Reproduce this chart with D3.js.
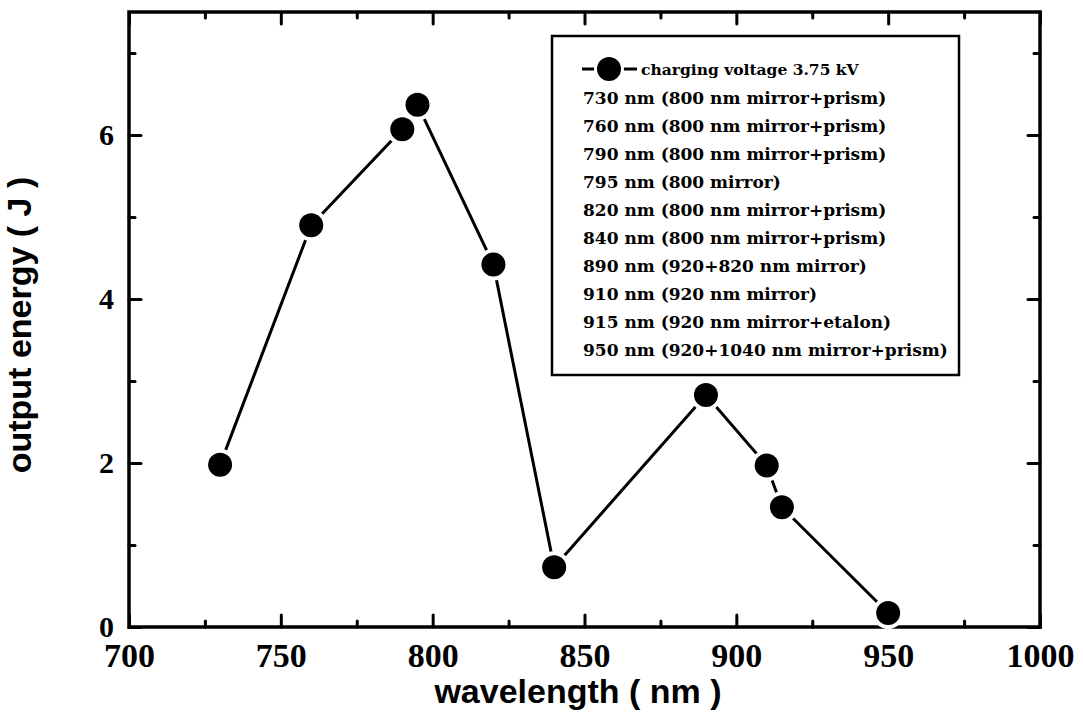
<!DOCTYPE html>
<html>
<head>
<meta charset="utf-8">
<script src="https://cdn.jsdelivr.net/npm/d3@7"></script>
<style>
  body { margin: 0; background: #fff; }
  svg { display: block; }
</style>
</head>
<body>
<div id="chart"></div>
<script>
// wavelength (nm) and output energy (J)
const wavelengths = [730, 760, 790, 795, 820, 840, 890, 910, 915, 950];
const energies = [1.98, 4.90, 6.07, 6.37, 4.42, 0.73, 2.83, 1.97, 1.46, 0.17];

const xMajor = [700, 750, 800, 850, 900, 950, 1000];
const xMinor = [725, 775, 825, 875, 925, 975];
const yMajor = [0, 2, 4, 6];
const yMinor = [1, 3, 5, 7];

const seriesLabel = "charging voltage 3.75 kV";
const legendLines = [
  "730 nm (800 nm mirror+prism)",
  "760 nm (800 nm mirror+prism)",
  "790 nm (800 nm mirror+prism)",
  "795 nm (800 mirror)",
  "820 nm (800 nm mirror+prism)",
  "840 nm (800 nm mirror+prism)",
  "890 nm (920+820 nm mirror)",
  "910 nm (920 nm mirror)",
  "915 nm (920 nm mirror+etalon)",
  "950 nm (920+1040 nm mirror+prism)"
];

const w = 1083;
const h = 716;
const plotL = 129, plotR = 1040, plotT = 12, plotB = 627;

const svg = d3.select("#chart")
  .append("svg")
  .attr("width", w)
  .attr("height", h);

const xScale = d3.scaleLinear().domain([700, 1000]).range([plotL, plotR]);
const yScale = d3.scaleLinear().domain([0, 7.5]).range([plotB, plotT]);

const tickFont = "'Liberation Serif', 'Times New Roman', serif";
const titleFont = "'Liberation Sans', Arial, sans-serif";

function styleAxis(g) {
  g.select(".domain").remove();
  g.selectAll(".tick line")
    .attr("stroke", "#000")
    .attr("stroke-width", 3)
    .attr("stroke-linecap", "round");
}

// bottom axis with labels
svg.append("g")
  .attr("transform", `translate(0,${plotB})`)
  .call(d3.axisBottom(xScale).tickValues(xMajor).tickSize(-12).tickFormat(d3.format("d")))
  .call(styleAxis)
  .call(g => g.selectAll("text")
    .attr("y", 40).attr("dy", null)
    .attr("fill", "#000")
    .style("font-family", tickFont)
    .style("font-weight", "bold")
    .style("font-size", "34px"));

svg.append("g")
  .attr("transform", `translate(0,${plotB})`)
  .call(d3.axisBottom(xScale).tickValues(xMinor).tickSize(-6).tickFormat(""))
  .call(styleAxis);

// top axis, ticks only
svg.append("g")
  .attr("transform", `translate(0,${plotT})`)
  .call(d3.axisTop(xScale).tickValues(xMajor).tickSize(-12).tickFormat(""))
  .call(styleAxis);
svg.append("g")
  .attr("transform", `translate(0,${plotT})`)
  .call(d3.axisTop(xScale).tickValues(xMinor).tickSize(-6).tickFormat(""))
  .call(styleAxis);

// left axis with labels
svg.append("g")
  .attr("transform", `translate(${plotL},0)`)
  .call(d3.axisLeft(yScale).tickValues(yMajor).tickSize(-12).tickPadding(15).tickFormat(d3.format("d")))
  .call(styleAxis)
  .call(g => g.selectAll("text")
    .attr("fill", "#000")
    .style("font-family", tickFont)
    .style("font-weight", "bold")
    .style("font-size", "30px"));
svg.append("g")
  .attr("transform", `translate(${plotL},0)`)
  .call(d3.axisLeft(yScale).tickValues(yMinor).tickSize(-6).tickFormat(""))
  .call(styleAxis);

// right axis, ticks only
svg.append("g")
  .attr("transform", `translate(${plotR},0)`)
  .call(d3.axisRight(yScale).tickValues(yMajor).tickSize(-12).tickFormat(""))
  .call(styleAxis);
svg.append("g")
  .attr("transform", `translate(${plotR},0)`)
  .call(d3.axisRight(yScale).tickValues(yMinor).tickSize(-6).tickFormat(""))
  .call(styleAxis);

// frame
svg.append("rect")
  .attr("x", plotL)
  .attr("y", plotT)
  .attr("width", plotR - plotL)
  .attr("height", plotB - plotT)
  .attr("fill", "none")
  .attr("stroke", "#000")
  .attr("stroke-width", 3.5);

// data line
const points = wavelengths.map((d, i) => [d, energies[i]]);
svg.append("path")
  .datum(points)
  .attr("fill", "none")
  .attr("stroke", "#000")
  .attr("stroke-width", 3)
  .attr("d", d3.line().x(d => xScale(d[0])).y(d => yScale(d[1])));

// markers with a white halo so the line stops short of them
svg.selectAll("circle.pt")
  .data(points)
  .enter()
  .append("circle")
  .attr("class", "pt")
  .attr("cx", d => xScale(d[0]))
  .attr("cy", d => yScale(d[1]))
  .attr("r", 12)
  .attr("fill", "#000")
  .attr("stroke", "#fff")
  .attr("stroke-width", 8)
  .attr("paint-order", "stroke");

// legend
const legend = svg.append("g").attr("id", "legend");
legend.append("rect")
  .attr("x", 552)
  .attr("y", 36)
  .attr("width", 407)
  .attr("height", 339)
  .attr("fill", "#fff")
  .attr("stroke", "#000")
  .attr("stroke-width", 2.5);

legend.append("line")
  .attr("x1", 582).attr("x2", 637)
  .attr("y1", 69).attr("y2", 69)
  .attr("stroke", "#000")
  .attr("stroke-width", 3);
legend.append("circle")
  .attr("cx", 609).attr("cy", 69).attr("r", 12)
  .attr("fill", "#000")
  .attr("stroke", "#fff")
  .attr("stroke-width", 6)
  .attr("paint-order", "stroke");
legend.append("text")
  .attr("x", 641)
  .attr("y", 75)
  .style("font-family", "'DejaVu Serif', serif")
  .style("font-weight", "bold")
  .style("font-size", "15.5px")
  .text(seriesLabel);

legend.selectAll("text.entry")
  .data(legendLines)
  .enter()
  .append("text")
  .attr("class", "entry")
  .attr("x", 583)
  .attr("y", (d, i) => 104 + i * 28)
  .style("font-family", "'DejaVu Serif', serif")
  .style("font-weight", "bold")
  .style("font-size", "17px")
  .text(d => d);

// axis titles
svg.append("text")
  .attr("x", 578)
  .attr("y", 703)
  .attr("text-anchor", "middle")
  .style("font-family", titleFont)
  .style("font-weight", "bold")
  .style("font-size", "34px")
  .text("wavelength ( nm )");

svg.append("text")
  .attr("transform", "translate(31,325) rotate(-90)")
  .attr("text-anchor", "middle")
  .style("font-family", titleFont)
  .style("font-weight", "bold")
  .style("font-size", "34px")
  .text("output energy ( J )");
</script>
</body>
</html>
